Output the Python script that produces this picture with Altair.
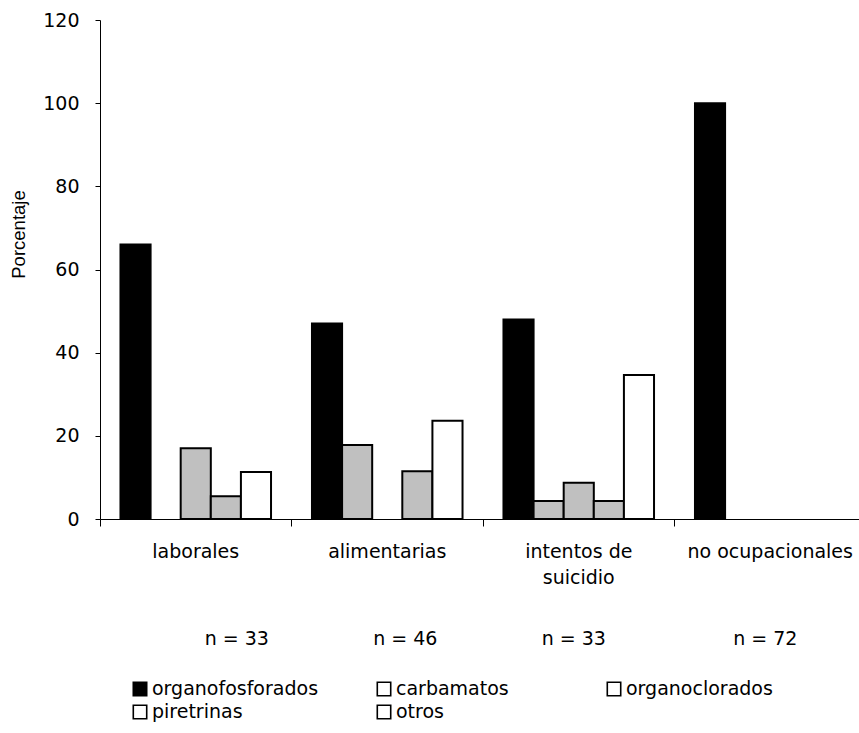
import altair as alt
import pandas as pd

# Poisoning cases by circumstance, share (%) of each pesticide group
categories = ["laborales", "alimentarias", "intentos de suicidio", "no ocupacionales"]
series = ["organofosforados", "carbamatos", "organoclorados", "piretrinas", "otros"]
organofosforados = [66, 47, 48, 100]
carbamatos = [0, 17.8, 4.3, 0]
organoclorados = [17, 0, 8.7, 0]
piretrinas = [5.5, 11.5, 4.3, 0]
otros = [11.3, 23.6, 34.6, 0]
sample_sizes = [33, 46, 33, 72]

TEXT_FONT = "DejaVu Sans"
TITLE_FONT = "Liberation Sans"
TEXT_SIZE = 19
bar_colors = ["#000000", "#c0c0c0", "#c0c0c0", "#c0c0c0", "#ffffff"]
key_colors = ["#000000", "#ffffff", "#ffffff", "#ffffff", "#ffffff"]

# long table of bars (zero shares are not drawn)
rows = []
for name, values in zip(series, [organofosforados, carbamatos, organoclorados, piretrinas, otros]):
    for cat, val in zip(categories, values):
        if val > 0:
            rows.append({"grupo": cat, "serie": name, "valor": val})
bars_df = pd.DataFrame(rows)

x_scale = alt.Scale(domain=categories, range=[0, 766], paddingInner=0, paddingOuter=0)

bars = alt.Chart(bars_df).mark_bar(stroke="black", strokeWidth=2).encode(
    x=alt.X(
        "grupo:N",
        sort=categories,
        scale=x_scale,
        title=None,
        axis=alt.Axis(
            labelAngle=0,
            bandPosition=0,
            tickSize=7,
            labelPadding=16,
            labelFont=TEXT_FONT,
            labelFontSize=TEXT_SIZE,
            labelLineHeight=26,
            labelExpr="datum.value == 'intentos de suicidio' ? ['intentos de', 'suicidio'] : datum.label",
        ),
    ),
    xOffset=alt.XOffset("serie:N", sort=series,
                        scale=alt.Scale(domain=series, paddingInner=0, paddingOuter=0.68)),
    y=alt.Y(
        "valor:Q",
        scale=alt.Scale(domain=[0, 120], nice=False),
        axis=alt.Axis(
            values=[0, 20, 40, 60, 80, 100, 120],
            tickSize=5,
            labelPadding=16,
            labelFont=TEXT_FONT,
            labelFontSize=TEXT_SIZE,
            grid=False,
            title="Porcentaje",
            titleFont=TITLE_FONT,
            titleFontSize=18.5,
            titleFontWeight="normal",
            titleAngle=270,
            titleX=-82,
            titleY=214,
            titleAlign="center",
            titleBaseline="middle",
        ),
    ),
    fill=alt.Fill("serie:N", scale=alt.Scale(domain=series, range=bar_colors), legend=None),
)

# sample size under each group
n_df = pd.DataFrame({"grupo": categories, "etiqueta": [f"n = {n}" for n in sample_sizes]})
n_shift = [41, 18, -5, -5]
n_layers = [
    alt.Chart(n_df)
    .transform_filter(alt.datum.grupo == cat)
    .mark_text(dx=shift, font=TEXT_FONT, fontSize=TEXT_SIZE, baseline="alphabetic",
               align="center", color="black")
    .encode(x=alt.X("grupo:N", sort=categories), y=alt.value(625), text="etiqueta:N")
    for cat, shift in zip(categories, n_shift)
]

# key below the chart: three columns, two rows
key_df = pd.DataFrame({
    "serie": series,
    "col": [i % 3 for i in range(len(series))],
    "row": [i // 3 for i in range(len(series))],
})
key_x = alt.X("col:Q", axis=None,
              scale=alt.Scale(domain=[0, 1, 2], range=[40, 284, 514], nice=False, zero=False))
key_y = alt.Y("row:Q", axis=None,
              scale=alt.Scale(domain=[0, 1], range=[669, 692], nice=False, zero=False))
key_boxes = alt.Chart(key_df).mark_square(size=180, stroke="black", strokeWidth=1.6, opacity=1).encode(
    x=key_x, y=key_y,
    fill=alt.Fill("serie:N", scale=alt.Scale(domain=series, range=key_colors), legend=None),
)
key_text = alt.Chart(key_df).mark_text(
    align="left", baseline="middle", dx=12, font=TEXT_FONT, fontSize=TEXT_SIZE, color="black"
).encode(x=key_x, y=key_y, text="serie:N")
key = alt.layer(key_boxes, key_text)

chart = (
    alt.layer(alt.layer(bars, *n_layers), key)
    .resolve_scale(x="independent", y="independent", fill="independent")
    .properties(
        width=759,
        height=499,
        autosize=alt.AutoSizeParams(type="none"),
        padding={"left": 100, "top": 20, "right": 0, "bottom": 214},
    )
    .configure(font=TEXT_FONT)
    .configure_view(stroke=None)
    .configure_axis(
        domainColor="black",
        tickColor="black",
        labelColor="black",
        titleColor="black",
    )
)

chart.save("out.html", embed_options={"renderer": "svg", "actions": False})
